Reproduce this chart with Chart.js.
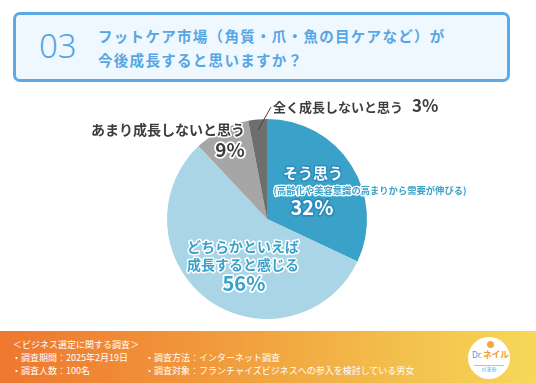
<!DOCTYPE html>
<html><head><meta charset="utf-8">
<script src="https://cdn.jsdelivr.net/npm/chart.js@4"></script>
<style>
html,body{margin:0;padding:0;background:#fff;width:536px;height:383px;overflow:hidden;font-family:"Noto Sans CJK JP","Noto Sans",sans-serif;}
#wrap{position:relative;width:536px;height:383px;}
#c{position:absolute;left:0;top:0;}
#head{position:absolute;left:13px;top:12px;width:491px;height:64px;border:3px solid #5aa9e8;border-radius:7px;background:#eff7ff;}
#num{position:absolute;left:23px;top:13px;font-family:"Noto Sans","Open Sans",sans-serif;font-weight:300;font-size:33px;line-height:36px;color:#56a6e4;}
#ttl{position:absolute;left:82px;top:9px;font-weight:700;font-size:14.5px;line-height:24px;color:#56a6e4;letter-spacing:1.3px;}
#foot{position:absolute;left:0;top:331px;width:536px;height:52px;background:linear-gradient(90deg,#ee772f 0%,#f19a3c 40%,#f3c04c 75%,#f6d858 100%);color:#fff;font-size:9px;line-height:13px;}
.fl{position:absolute;white-space:nowrap;}
#logo{position:absolute;left:468px;top:6px;width:42px;height:42px;border-radius:50%;background:#fff;}
#logo .dr{position:absolute;left:4px;top:13px;font-size:8px;line-height:10px;color:#3a9fd8;font-family:"Noto Sans",sans-serif;}
#logo .nl{position:absolute;left:15px;top:12px;font-size:9px;line-height:11px;color:#f0a030;font-weight:700;letter-spacing:-0.5px;}
#logo .sub{position:absolute;left:6px;top:28px;width:30px;text-align:center;font-size:5px;line-height:6px;color:#3a9fd8;border-top:0.5px solid #9cc8ea;}
#logo .dot{position:absolute;left:19px;top:4px;width:7px;height:7px;border-radius:50%;background:#f3a93a;}
</style></head>
<body><div id="wrap">
<canvas id="c" width="536" height="383"></canvas>
<div id="head"><div id="num">03</div><div id="ttl">フットケア市場（角質・爪・魚の目ケアなど）が<br>今後成長すると思いますか？</div></div>
<div id="foot">
<div class="fl" style="left:13px;top:7px;">＜ビジネス選定に関する調査＞</div>
<div class="fl" style="left:12px;top:20px;">・調査期間：2025年2月19日</div>
<div class="fl" style="left:12px;top:33px;">・調査人数：100名</div>
<div class="fl" style="left:145px;top:20px;">・調査方法：インターネット調査</div>
<div class="fl" style="left:145px;top:33px;">・調査対象：フランチャイズビジネスへの参入を検討している男女</div>
<div id="logo"><div class="dot"></div><div class="dr">Dr.</div><div class="nl">ネイル</div><div class="sub">爪革命</div></div>
</div>
</div>
<script>
const categories = ["そう思う", "どちらかといえば成長すると感じる", "あまり成長しないと思う", "全く成長しないと思う"];
const values = [32, 56, 9, 3];
const sliceColors = ["#3aa1c8", "#a9d5e6", "#a6a6a6", "#6e6e6e"];
const pctLabels = ["32%", "56%", "9%", "3%"];
const subNote = "(高齢化や美容意識の高まりから需要が伸びる)";

const font = '"Noto Sans CJK JP","Noto Sans",sans-serif';
function txt(ctx, s, x, y, size, fill, stroke, lw, align){
  ctx.font = '700 ' + size + 'px ' + font;
  ctx.textAlign = align || 'center';
  ctx.textBaseline = 'middle';
  if (stroke){ctx.lineJoin='round';ctx.lineWidth=lw||3;ctx.strokeStyle=stroke;ctx.strokeText(s,x,y);}
  ctx.fillStyle = fill; ctx.fillText(s,x,y);
}
const labelPlugin = {
  id:'labels',
  afterDatasetsDraw(chart){
    const ctx = chart.ctx;
    const arc = chart.getDatasetMeta(0).data[0];
    const cx = arc.x, cy = arc.y;
    ctx.save();
    ctx.strokeStyle='#444'; ctx.lineWidth=1;
    ctx.beginPath(); ctx.moveTo(cx-9, cy-89); ctx.lineTo(cx+4, cy-112); ctx.stroke();
    txt(ctx, categories[3], cx+6, cy-112, 13, '#3d3d3d', null, 0, 'left');
    txt(ctx, pctLabels[3], cx+145, cy-113, 17, '#3d3d3d', null, 0, 'left');
    txt(ctx, categories[2], cx-22, cy-89, 14, '#3d3d3d', '#fff', 3, 'right');
    txt(ctx, pctLabels[2], cx-37, cy-69, 19, '#3d3d3d', '#fff', 3.5);
    txt(ctx, categories[0], cx+46, cy-46, 15, '#fff', '#2b8dbb', 3);
    txt(ctx, subNote, cx+103, cy-29, 9.3, '#3aa1c8', '#fff', 2.5);
    txt(ctx, pctLabels[0], cx+45, cy-12, 20, '#fff', '#2b8dbb', 3.5);
    txt(ctx, "どちらかといえば", cx-24, cy+28, 14, '#3aa1c8', '#fff', 3);
    txt(ctx, "成長すると感じる", cx-24, cy+46, 14, '#3aa1c8', '#fff', 3);
    txt(ctx, pctLabels[1], cx-23, cy+64, 20, '#3aa1c8', '#fff', 3.5);
    ctx.restore();
  }
};
new Chart(document.getElementById('c'), {
  type:'pie',
  data:{labels:categories, datasets:[{data:values, backgroundColor:sliceColors, borderWidth:0}]},
  options:{
    responsive:false, animation:false,
    layout:{padding:{left:167,right:169,top:119,bottom:64}},
    plugins:{legend:{display:false}, tooltip:{enabled:false}}
  },
  plugins:[labelPlugin]
});
</script>
</body></html>
